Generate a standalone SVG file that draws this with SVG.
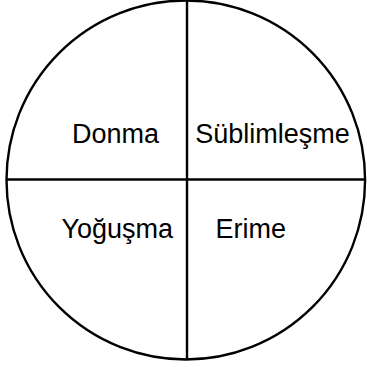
<svg xmlns="http://www.w3.org/2000/svg" width="367" height="367" viewBox="0 0 367 367">
<style>
.ln{stroke:#000;stroke-width:2.4;fill:none}
.t{font-family:"Liberation Sans",Arial,sans-serif;font-size:27px;fill:#000}
</style>
<rect width="367" height="367" fill="#fff"/>
<g id="circle"><ellipse class="ln" cx="185.8" cy="180" rx="179.3" ry="179.5"/></g>
<g id="connectors">
<line class="ln" x1="187" y1="0" x2="187" y2="359.5"/>
<line class="ln" x1="6.5" y1="179.5" x2="366" y2="179.5"/>
</g>
<g id="donma"><text class="t" x="72" y="142.7">Donma</text></g>
<g id="sublimlesme"><text class="t" x="195.3" y="142.7">Süblimleşme</text></g>
<g id="yogusma"><text class="t" x="61.5" y="238.3">Yoğuşma</text></g>
<g id="erime"><text class="t" x="215.5" y="238.3">Erime</text></g>
</svg>
